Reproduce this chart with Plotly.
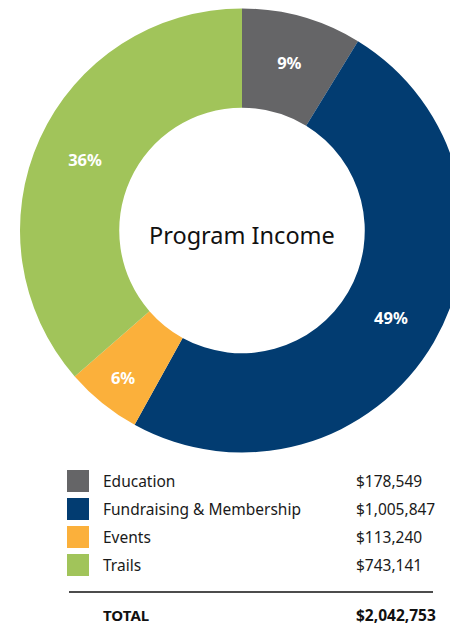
import plotly.graph_objects as go

categories = ["Education", "Fundraising & Membership", "Events", "Trails"]
values = [178549, 1005847, 113240, 743141]
colors = ["#656567", "#023C71", "#FBB03B", "#A1C45A"]
total_label = "$2,042,753"
center_title = "Program Income"

W, H = 458, 629
FONT = "Noto Sans"
OFF = 8  # page body margin


def px(x):
    return (x - OFF) / W


def py(y):
    return 1 - (y - OFF) / H


cx, cy, r = 242, 230.5, 222

fig = go.Figure()
fig.add_trace(go.Pie(
    labels=categories,
    values=values,
    marker=dict(colors=colors, line=dict(width=0)),
    hole=0.553,
    sort=False,
    direction="clockwise",
    rotation=0,
    texttemplate="%{percent:.0%}",
    textposition="inside",
    insidetextorientation="horizontal",
    insidetextfont=dict(family=FONT, size=16.5, color="white", weight=700),
    hoverinfo="skip",
    domain=dict(x=[px(cx - r), px(cx + r)], y=[py(cy + r), py(cy - r)]),
))

annotations = [dict(
    x=px(242), y=py(235), xref="paper", yref="paper",
    text=center_title, showarrow=False,
    font=dict(family=FONT, size=23.5, color="#111111"),
    xanchor="center", yanchor="middle",
)]
shapes = []

row_y0 = 481
row_step = 28
for i, (cat, val, col) in enumerate(zip(categories, values, colors)):
    yc = row_y0 + i * row_step
    shapes.append(dict(
        type="rect", xref="paper", yref="paper",
        x0=px(67), x1=px(89), y0=py(yc + 11), y1=py(yc - 11),
        fillcolor=col, line=dict(width=0),
    ))
    annotations.append(dict(
        x=px(101), y=py(yc), xref="paper", yref="paper",
        text=cat, showarrow=False, xanchor="left", yanchor="middle",
        font=dict(family=FONT, size=15.5, color="#1a1a1a"),
    ))
    annotations.append(dict(
        x=px(354), y=py(yc), xref="paper", yref="paper",
        text=f"${val:,}", showarrow=False, xanchor="left", yanchor="middle",
        font=dict(family=FONT, size=15.5, color="#1a1a1a"),
    ))

shapes.append(dict(
    type="line", xref="paper", yref="paper",
    x0=px(69), x1=px(433), y0=py(592), y1=py(592),
    line=dict(color="#111111", width=1.5),
))
annotations.append(dict(
    x=px(101), y=py(615), xref="paper", yref="paper",
    text="<b>TOTAL</b>", showarrow=False, xanchor="left", yanchor="middle",
    font=dict(family=FONT, size=15, color="#111111"),
))
annotations.append(dict(
    x=px(354), y=py(615), xref="paper", yref="paper",
    text=f"<b>{total_label}</b>", showarrow=False, xanchor="left", yanchor="middle",
    font=dict(family=FONT, size=15.5, color="#111111"),
))

fig.update_layout(
    width=W, height=H,
    margin=dict(l=0, r=0, t=0, b=0),
    paper_bgcolor="white", plot_bgcolor="white",
    showlegend=False,
    annotations=annotations,
    shapes=shapes,
)

fig.write_html("out.html")
